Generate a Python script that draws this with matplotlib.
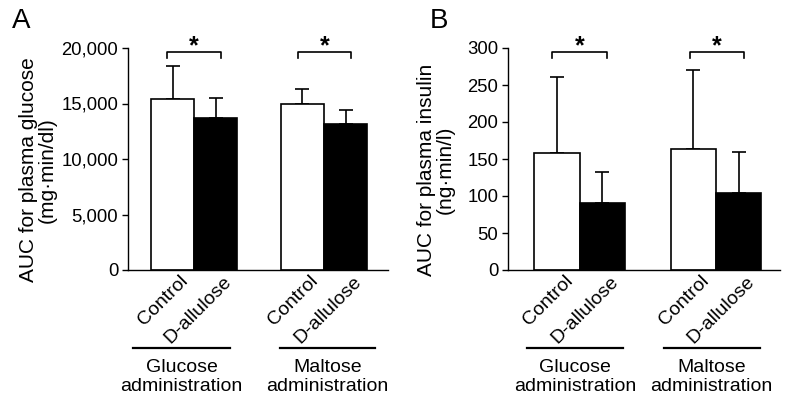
import matplotlib
matplotlib.use("Agg")
import matplotlib.pyplot as plt
import matplotlib.transforms as mtransforms
from matplotlib.ticker import FuncFormatter

plt.rcParams['font.family'] = ['Liberation Sans', 'DejaVu Sans']

# data
bar_labels = ["Control", "D-allulose", "Control", "D-allulose"]
groups = ["Glucose\nadministration", "Maltose\nadministration"]

glucose_mean = [15400, 13700, 14980, 13150]
glucose_sd = [2980, 1820, 1300, 1260]

insulin_mean = [158, 90, 164, 104]
insulin_sd = [103, 42, 106, 56]

pos = [1, 2, 4, 5]
fills = ["white", "black", "white", "black"]

fig = plt.figure(figsize=(7.87, 4.01), dpi=100)


def panel(rect, means, sds, ymax, ystep, ylabel, letter, xlim, lines, brackets, ylab_x, fmt):
    ax = fig.add_axes(rect)
    ax.bar(pos, means, width=1.0, color=fills, edgecolor="black", linewidth=1.2, zorder=2)
    # only the upper half of the error bar
    ax.errorbar(pos, means, yerr=[[0] * 4, sds], fmt="none", ecolor="black",
                elinewidth=1.2, capsize=5, capthick=1.2, zorder=1)
    ax.set_xlim(*xlim)
    ax.set_ylim(0, ymax)
    ax.set_yticks(range(0, ymax + 1, ystep))
    ax.yaxis.set_major_formatter(FuncFormatter(fmt))
    ax.set_xticks([])
    for s in ["top", "right"]:
        ax.spines[s].set_visible(False)
    ax.spines["left"].set_linewidth(1.0)
    ax.spines["bottom"].set_linewidth(1.0)
    ax.tick_params(axis="y", labelsize=13.3, length=4, width=1.0, pad=3)
    ax.set_ylabel(ylabel, fontsize=15, linespacing=1.0, ha="center")
    ax.yaxis.set_label_coords(ylab_x, 0.45)

    trans = mtransforms.blended_transform_factory(ax.transData, ax.transAxes)
    off = mtransforms.ScaledTranslation(19 / 100, 0, fig.dpi_scale_trans)
    for x, lab in zip(pos, bar_labels):
        ax.text(x, -0.012, lab, transform=trans + off, rotation=45,
                ha="right", va="top", fontsize=14)

    for (x0, x1), g in zip(lines, groups):
        ax.plot([x0, x1], [-0.352, -0.352], transform=trans, color="black",
                lw=1.6, clip_on=False)
        ax.text((x0 + x1) / 2, -0.40, g, transform=trans, ha="center", va="top",
                fontsize=14, linespacing=1.2)

    for (x0, x1) in brackets:
        ax.plot([x0, x0, x1, x1], [0.955, 0.982, 0.982, 0.955], transform=trans,
                color="black", lw=1.2, clip_on=False)
        ax.text((x0 + x1) / 2, 0.977, "*", transform=trans, ha="center", va="baseline",
                fontsize=18, fontweight="bold")

    fig.text(rect[0] - 0.148 if letter == "A" else rect[0] - 0.1, 0.915, letter,
             fontsize=20, ha="left", va="bottom")
    return ax


panel([128 / 787, 1 - 270 / 401, 260 / 787, 222 / 401],
      glucose_mean, glucose_sd, 20000, 5000,
      "AUC for plasma glucose\n(mg\u00b7min/dl)", "A",
      (-0.03, 5.98), [(0.09, 2.33), (3.48, 5.68)],
      [(0.87, 2.12), (3.89, 5.13)], -0.273,
      lambda v, p: f"{int(v):,}")

panel([508 / 787, 1 - 270 / 401, 272 / 787, 222 / 401],
      insulin_mean, insulin_sd, 300, 50,
      "AUC for plasma insulin\n(ng\u00b7min/l)", "B",
      (-0.08, 5.91), [(0.34, 2.45), (3.35, 5.46)],
      [(0.89, 2.10), (3.93, 5.12)], -0.195,
      lambda v, p: f"{int(v)}")

fig.savefig("out.png", dpi=100)
